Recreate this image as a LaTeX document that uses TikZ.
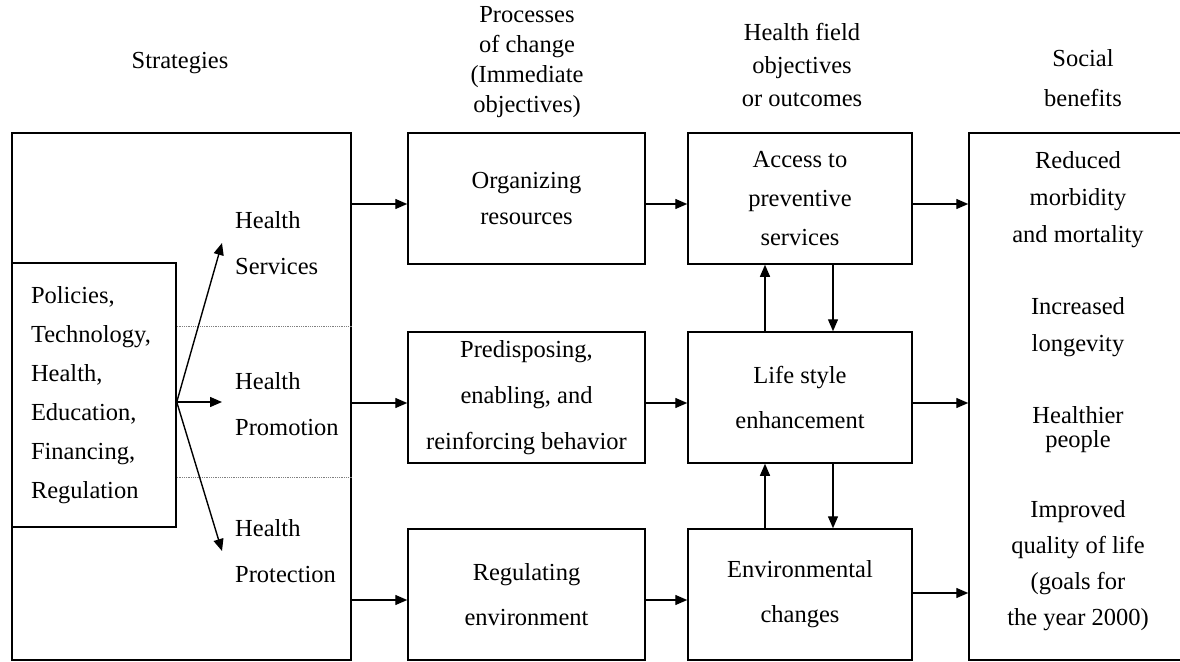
\documentclass[tikz,border=0pt]{standalone}
\usepackage{fontspec}
\setmainfont{Liberation Serif}
\usepackage{tikz}
\usetikzlibrary{arrows.meta}
\usetikzlibrary{positioning}

\begin{document}
\begin{tikzpicture}[x=1pt, y=-1pt,
  lead/.style={font=\fontsize{24.5}{#1}\selectfont},
  lead/.default=45,
  cell/.style={draw, line width=1.5pt, inner sep=0pt, align=center, minimum height=131pt},
  arr/.style={-{Triangle[length=12pt,width=10pt]}, line width=1.4pt},
  sep/.style={densely dotted, gray, line width=0.8pt}]
	\useasboundingbox (0,0) rectangle (1180,661);
	\clip (0,0) rectangle (1180,661);

	\node[lead=45, align=center] (hstr) at (180,63) {Strategies};
	\node[lead=30, align=center] (hproc) at (527,62) {Processes\\of change\\(Immediate\\objectives)};
	\node[lead=33, align=center] (hfield) at (802,65) {Health field\\objectives\\or outcomes};
	\node[lead=40, align=center] (hsoc) at (1083,78) {Social\\benefits};

	\node[cell, minimum width=339pt, minimum height=527pt] (strat) at (181.5,396.5) {};
	\node[draw, line width=1.5pt, lead=39, align=left, text width=126pt, inner xsep=19pt, inner ysep=0pt, minimum height=264pt] (pol) at (94,395) {Policies,\\Technology,\\Health,\\Education,\\Financing,\\Regulation};
	\node[lead=46, align=left, anchor=west, inner xsep=13pt, inner ysep=0pt] (hserv) at (222,243) {Health\\Services};
	\node[lead=46, align=left, anchor=west, inner xsep=13pt, inner ysep=0pt] (hprom) at (222,404) {Health\\Promotion};
	\node[lead=46, align=left, anchor=west, inner xsep=13pt, inner ysep=0pt] (hprot) at (222,551) {Health\\Protection};

	\node[cell, minimum width=237pt, lead=36] (org) at (526.5,198.5) {Organizing\\resources};
	\node[cell, minimum width=237pt, lead=46] (pre) at (526.5,397.5) {Predisposing,\\enabling, and\\reinforcing behavior};
	\node[cell, minimum width=237pt, lead=45] (reg) at (526.5,594.5) {Regulating\\environment};

	\node[cell, minimum width=224pt, lead=39] (acc) at (800,198.5) {Access to\\preventive\\services};
	\node[cell, minimum width=224pt, lead=45] (life) at (800,397.5) {Life style\\enhancement};
	\node[cell, minimum width=224pt, lead=45] (env) at (800,594.5) {Environmental\\changes};

	\node[cell, minimum width=221pt, minimum height=527pt] (soc) at (1079.5,396.5) {};
	\node[lead=37, align=center] (red) at (1078,200) {Reduced\\morbidity\\and mortality};
	\node[lead=37, align=center] (lon) at (1078,327) {Increased\\longevity};
	\node[lead=24, align=center] (hea) at (1078,430) {Healthier\\people};
	\node[lead=36, align=center] (imp) at (1078,566) {Improved\\quality of life\\(goals for\\the year 2000)};

	\coordinate (d1) at (0,326);
	\coordinate (d2) at (0,477);
	\coordinate (fan) at ([yshift=-7pt]pol.east);
	\coordinate (r1) at (0,204);
	\coordinate (r2) at (0,403);
	\coordinate (r3) at (0,600);
	\coordinate (q3) at (0,593);
	\coordinate (up) at (765,0);
	\coordinate (dn) at (833,0);

	\draw[sep] (pol.east |- d1) -- (strat.east |- d1);
	\draw[sep] (pol.east |- d2) -- (strat.east |- d2);

	\draw[arr] (fan) -- (hserv.west);
	\draw[arr] (fan) -- (hprom.west |- fan);
	\draw[arr] (fan) -- (hprot.west);

	\draw[arr] (strat.east |- r1) -- (org.west |- r1);
	\draw[arr] (strat.east |- r2) -- (pre.west |- r2);
	\draw[arr] (strat.east |- r3) -- (reg.west |- r3);

	\draw[arr] (org.east |- r1) -- (acc.west |- r1);
	\draw[arr] (pre.east |- r2) -- (life.west |- r2);
	\draw[arr] (reg.east |- r3) -- (env.west |- r3);

	\draw[arr] (acc.east |- r1) -- (soc.west |- r1);
	\draw[arr] (life.east |- r2) -- (soc.west |- r2);
	\draw[arr] (env.east |- q3) -- (soc.west |- q3);

	\draw[arr] (life.north -| up) -- (acc.south -| up);
	\draw[arr] (acc.south -| dn) -- (life.north -| dn);
	\draw[arr] (env.north -| up) -- (life.south -| up);
	\draw[arr] (life.south -| dn) -- (env.north -| dn);
\end{tikzpicture}
\end{document}
